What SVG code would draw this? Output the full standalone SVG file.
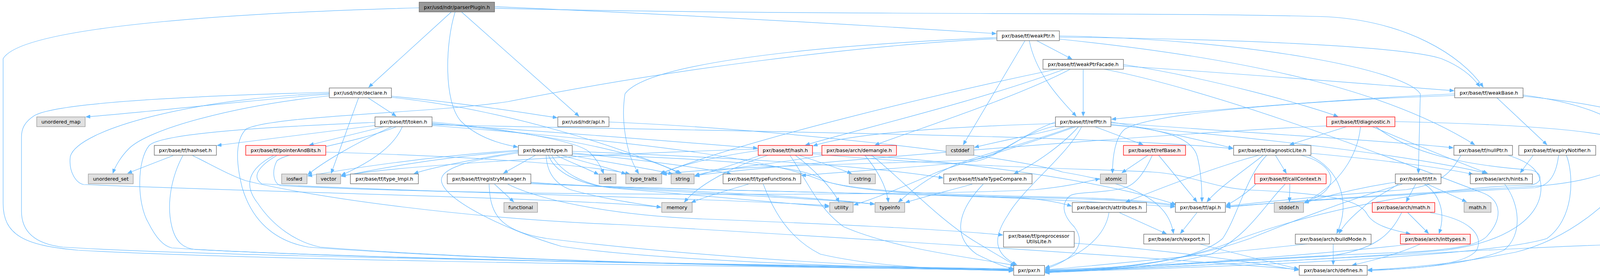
<svg xmlns="http://www.w3.org/2000/svg" width="4321" height="711" viewBox="0 0 4321 711">
<defs>
<marker id="a" markerUnits="userSpaceOnUse" markerWidth="12" markerHeight="9" refX="11" refY="4.5" orient="auto"><path d="M0,0 L11,4.5 L0,9 z" fill="#63b8ff" stroke="#63b8ff" stroke-width="1"/></marker>
</defs>
<style>
.e path{fill:none;stroke:#63b8ff;stroke-width:1.2;marker-end:url(#a)}
.n rect{fill:#ffffff;stroke:#666666;stroke-width:1.3}
.g rect{fill:#e0e0e0;stroke:#999999;stroke-width:1.3}
.r rect{fill:#fff0f0;stroke:#ff0000;stroke-width:1.3}
.m rect{fill:#999999;stroke:#666666;stroke-width:1.3}
text{font-family:"DejaVu Sans","Liberation Sans",sans-serif;font-size:12.7px;text-anchor:middle;fill:#000000}
</style>
<rect x="0" y="0" width="4321" height="711" fill="#ffffff"/>
<g id="edges" class="e">
<path d="M1073,20 C700,30 60,60 8,150 L8,520 C8,600 60,628 200,640 C700,668 2000,682 2593,691"/>
<path d="M1155,31 L944,223"/>
<path d="M1165,31 C1140,110 1135,260 1180,310 C1220,350 1280,368 1325,376"/>
<path d="M1182,31 L1482,297"/>
<path d="M1266,17 C1800,40 2300,70 2550,86"/>
<path d="M1266,21 C2000,40 3000,30 3400,43 C3600,55 3740,140 3797,223"/>
<path d="M843,241 C700,250 400,285 220,299"/>
<path d="M843,245 C600,270 380,330 330,380 C310,400 295,425 289,443"/>
<path d="M843,236 C500,245 150,262 89,295 C62,312 55,330 55,350 L55,540 C55,600 100,625 161,632 C600,660 2000,676 2593,688"/>
<path d="M843,239 C500,250 200,330 180,400 C175,440 195,468 214,472 C700,492 1500,508 1692,530"/>
<path d="M942,250 L1014,297"/>
<path d="M918,250 L848,443"/>
<path d="M1002,246 C1200,265 1350,290 1426,301"/>
<path d="M1002,249 C1300,280 1600,380 1744,443"/>
<path d="M1559,312 C2000,330 2600,400 2720,440 C2900,470 2990,510 3004,597"/>
<path d="M960,313 C800,320 420,335 382,372 C350,410 350,520 380,570 C400,610 420,630 440,634 C900,665 2100,680 2593,690"/>
<path d="M960,321 L556,372"/>
<path d="M983,324 L792,371"/>
<path d="M1003,324 C900,370 820,420 788,447"/>
<path d="M1030,324 C1010,370 960,410 874,448"/>
<path d="M1015,324 C900,370 720,390 708,413 C695,440 700,470 720,475 C1300,505 2400,500 2650,485 C2730,478 2780,465 2815,457"/>
<path d="M1106,312 C1300,330 1480,360 1510,390 C1530,410 1540,430 1545,444"/>
<path d="M1106,315 C1450,345 1660,400 1740,444"/>
<path d="M1106,317 C1400,335 1700,360 1939,379"/>
<path d="M1106,319 C1800,335 2800,345 3156,380"/>
<path d="M1106,321 C1600,360 1950,400 2100,460 C2200,495 2500,500 2750,505 C2900,510 2960,518 3007,524"/>
<path d="M834,389 C1200,400 1500,420 1612,445"/>
<path d="M708,398 C670,420 640,450 670,470 C1000,490 1800,505 2122,526"/>
<path d="M700,398 C640,430 620,470 660,520 C700,580 760,620 820,632 C1300,670 2100,683 2593,692"/>
<path d="M443,398 L327,443"/>
<path d="M468,398 C440,450 425,520 440,580 C450,620 470,635 500,638 C1000,665 2100,680 2593,689"/>
<path d="M493,398 C530,415 580,445 629,462 C800,505 1200,560 1600,575 C2200,610 2900,655 3324,689"/>
<path d="M1371,397 L1289,443"/>
<path d="M1327,388 C1200,410 1100,430 1060,444"/>
<path d="M1327,384 C1100,400 900,430 788,450"/>
<path d="M1327,386 C1100,405 950,435 874,451"/>
<path d="M1423,397 C1460,415 1500,430 1532,446"/>
<path d="M1437,397 C1500,415 1560,430 1602,445"/>
<path d="M1460,397 C1550,415 1660,430 1722,445"/>
<path d="M1398,397 C1400,440 1420,470 1460,485 C1550,510 1640,522 1692,530"/>
<path d="M1404,397 C1420,440 1480,470 1560,480 C1800,495 2100,508 2238,522"/>
<path d="M1412,397 C1440,445 1500,475 1580,482 C1800,500 2000,518 2122,529"/>
<path d="M1465,387 C1800,400 2200,420 2414,455"/>
<path d="M1465,391 C1650,410 1800,430 1872,445"/>
<path d="M1465,394 C1800,405 2060,420 2110,462 C2200,497 2500,503 2750,508 C2900,513 2960,520 3007,527"/>
<path d="M1327,391 C1200,410 1130,430 1130,460 C1130,510 1300,590 1437,630 C1700,670 2300,685 2593,692"/>
<path d="M1266,471 L1315,516"/>
<path d="M1252,471 C1255,540 1270,590 1400,610 C1800,660 2300,685 2593,693"/>
<path d="M1300,471 C1400,520 1600,552 1800,560 C2100,572 2400,585 2567,601"/>
<path d="M1359,466 C1500,478 1800,485 2100,492 C2500,500 2800,515 3007,529"/>
<path d="M1359,468 C1600,482 2000,495 2239,522"/>
<path d="M1359,470 C1700,485 2300,495 2600,505 C2680,510 2720,520 2743,527"/>
<path d="M1916,471 C1850,490 1800,505 1770,518"/>
<path d="M1954,471 C1980,540 2020,610 2100,650 C2250,685 2450,690 2593,692"/>
<path d="M1948,397 C1880,420 1820,440 1779,451"/>
<path d="M1966,397 C1880,425 1790,470 1752,517"/>
<path d="M2036,397 C2080,430 2130,480 2148,517"/>
<path d="M2045,397 C2100,415 2150,432 2180,444"/>
<path d="M2022,397 C2060,450 2090,530 2160,580 C2300,640 2500,660 2598,679"/>
<path d="M1941,385 C1800,405 1720,430 1690,445"/>
<path d="M2080,390 C2500,410 2850,470 3010,523"/>
<path d="M2080,393 C2400,425 2800,432 2950,440 C3050,446 3100,480 3200,486 C3400,495 3480,510 3500,548 C3515,575 3560,588 3610,598"/>
<path d="M1941,381 C1500,395 1000,425 874,450"/>
<path d="M2214,397 C2250,440 2270,480 2274,517"/>
<path d="M2231,397 C2300,450 2400,560 2500,620 C2550,650 2580,668 2600,679"/>
<path d="M2110,397 C1980,420 1830,432 1779,449"/>
<path d="M2624,104 L2466,370"/>
<path d="M2635,104 C2650,180 2700,240 2755,297"/>
<path d="M2654,104 L2744,151"/>
<path d="M2552,96 C2000,120 1650,170 1600,240 C1590,300 1600,390 1635,444"/>
<path d="M2552,99 C2200,115 1700,180 1300,260 C1100,290 700,295 630,330 C600,360 605,420 620,480 C650,580 720,620 790,632 C1300,670 2100,685 2593,691"/>
<path d="M2712,100 C3200,150 3550,230 3775,370"/>
<path d="M2712,92 C3200,100 3600,180 3636,240 L3631,443"/>
<path d="M2712,95 C3200,100 3600,120 3690,150 C3740,170 3770,195 3788,222"/>
<path d="M2773,177 L2773,297"/>
<path d="M2740,177 C2600,250 2350,330 2240,371"/>
<path d="M2725,177 C2500,260 2200,330 2062,371"/>
<path d="M2705,177 C2400,240 1900,360 1692,444"/>
<path d="M2876,165 C3100,200 3350,270 3425,298"/>
<path d="M2876,169 C3200,190 3500,215 3722,232"/>
<path d="M2827,177 C3100,230 3500,380 3800,495 C3845,515 3845,560 3810,600 C3790,630 3700,640 3600,645 C3200,660 2900,685 2676,690"/>
<path d="M2726,324 C2650,345 2560,360 2495,377"/>
<path d="M2761,324 C2720,370 2650,420 2596,444"/>
<path d="M2803,324 L2926,370"/>
<path d="M2702,312 C2620,340 2560,400 2500,412 C2350,428 2150,440 2052,449"/>
<path d="M2702,316 C2500,322 2200,335 2082,373"/>
<path d="M2747,324 C2650,360 2500,400 2450,420 C2380,450 2330,490 2300,517"/>
<path d="M2754,324 C2600,380 2450,420 2400,440 C2330,470 2250,505 2186,524"/>
<path d="M2769,324 C2730,400 2620,480 2580,550 C2540,610 2545,650 2603,677"/>
<path d="M2844,312 C2950,330 3080,360 3156,379"/>
<path d="M2844,318 C2960,330 3050,345 3065,400 C3075,440 3077,480 3077,516"/>
<path d="M2844,314 C3200,340 3550,360 3720,378"/>
<path d="M2844,320 C3200,350 3600,395 3805,443"/>
<path d="M2702,322 C2600,345 2560,405 2480,410 C2200,420 1850,425 1696,446"/>
<path d="M2939,397 L2872,442"/>
<path d="M2966,397 L3064,516"/>
<path d="M2950,397 C2930,440 2910,470 2880,480 C2820,495 2760,490 2740,500 C2715,520 2720,550 2750,580 C2780,620 2760,660 2676,688"/>
<path d="M3223,397 C3100,430 2950,490 2882,517"/>
<path d="M3234,397 C3180,440 3120,480 3090,516"/>
<path d="M3243,397 C3190,450 3170,550 3130,610 C3050,680 2800,690 2676,695"/>
<path d="M3265,397 L3293,443"/>
<path d="M3330,397 C3410,415 3450,480 3339,518"/>
<path d="M3350,397 C3430,430 3460,520 3422,597"/>
<path d="M3356,392 C3550,410 3700,430 3771,446"/>
<path d="M3302,471 L3301,516"/>
<path d="M3215,471 C3190,495 3160,515 3139,525"/>
<path d="M3290,471 C3240,520 3200,600 3100,650 C2950,690 2750,695 2676,697"/>
<path d="M3447,324 L3302,370"/>
<path d="M3483,324 C3475,400 3430,470 3340,518"/>
<path d="M3396,322 C3000,340 2000,420 1780,449"/>
<path d="M3513,324 C3600,360 3720,410 3808,443"/>
<path d="M3522,324 C3620,400 3780,425 3920,435 C3950,442 3950,468 3920,473 C3600,482 3300,560 3150,620 C3000,680 2800,690 2676,692"/>
<path d="M3571,311 C3900,318 4100,335 4160,360 C4215,380 4225,395 4200,425 C4120,520 4020,610 3880,645 C3700,680 3560,688 3502,690"/>
<path d="M3580,471 C3550,490 3510,510 3490,530 C3460,555 3440,575 3428,597"/>
<path d="M3624,471 L3600,516"/>
<path d="M3647,471 C3690,500 3700,550 3684,597"/>
<path d="M3654,471 L3754,516"/>
<path d="M3572,466 C3480,480 3400,500 3339,519"/>
<path d="M3590,471 C3450,510 3300,570 3200,610 C3000,680 2800,693 2676,694"/>
<path d="M3604,544 L3657,597"/>
<path d="M3661,544 C3760,560 3800,600 3780,640 C3750,680 3600,690 3502,690"/>
<path d="M3588,544 C3560,600 3520,640 3400,655 C3100,670 2800,690 2676,696"/>
<path d="M3636,624 C3580,650 3500,670 3462,678"/>
<path d="M3615,624 C3400,650 2900,685 2676,698"/>
<path d="M3413,624 L3413,677"/>
<path d="M3347,624 C3100,650 2800,680 2676,690"/>
<path d="M2866,544 L2986,598"/>
<path d="M2839,544 C2830,600 2780,650 2676,685"/>
<path d="M3064,544 L3022,597"/>
<path d="M3071,624 C3150,645 3250,670 3324,688"/>
<path d="M2750,622 C3000,640 3200,670 3324,691"/>
<path d="M3740,397 C3720,430 3700,470 3600,485 C3400,500 3250,515 3139,527"/>
<path d="M3860,397 C3920,415 3945,440 3945,480 C3945,560 3850,620 3700,640 C3400,665 2900,688 2676,693"/>
<path d="M3925,397 L3892,442"/>
<path d="M3990,397 C3985,440 3970,475 3930,480 C3700,492 3300,515 3139,529"/>
<path d="M4010,397 C4030,450 4030,560 3960,610 C3800,660 3000,688 2676,695"/>
<path d="M3832,250 L3960,370"/>
<path d="M3724,240 C3400,255 3000,290 2846,305"/>
<path d="M3724,244 C3300,260 2950,290 2880,330 C2855,350 2848,400 2848,443"/>
<path d="M3899,243 C4100,270 4190,330 4180,380 C4170,440 4050,470 3900,478 C3600,495 3300,515 3139,530"/>
<path d="M3899,246 C4150,270 4312,320 4312,380 L4312,540 C4312,600 4280,622 4200,624 C3900,628 3000,690 2676,693"/>
<path d="M3852,471 C3890,520 3900,600 3850,640 C3750,680 3600,688 3502,692"/>
<path d="M2489,471 C2420,490 2360,505 2318,518"/>
<path d="M2517,471 C2460,530 2430,600 2500,650 C2550,675 2580,685 2596,688"/>
</g>
<g id="n_parserPlugin" class="m"><rect x="1073" y="5.5" width="193" height="25"/><text x="1169.5" y="22.5">pxr/usd/ndr/parserPlugin.h</text></g>
<g id="n_weakPtr" class="n"><rect x="2552" y="79" width="160" height="25"/><text x="2632" y="96">pxr/base/tf/weakPtr.h</text></g>
<g id="n_weakPtrFacade" class="n"><rect x="2670" y="152" width="206" height="25"/><text x="2773" y="169">pxr/base/tf/weakPtrFacade.h</text></g>
<g id="n_declare" class="n"><rect x="843" y="225" width="159" height="25"/><text x="922.5" y="242">pxr/usd/ndr/declare.h</text></g>
<g id="n_weakBase" class="n"><rect x="3724" y="225" width="175" height="25"/><text x="3811.5" y="242">pxr/base/tf/weakBase.h</text></g>
<g id="n_unordered_map" class="g"><rect x="94" y="299" width="124" height="25"/><text x="156" y="316">unordered_map</text></g>
<g id="n_token" class="n"><rect x="960" y="299" width="146" height="25"/><text x="1033" y="316">pxr/base/tf/token.h</text></g>
<g id="n_ndrapi" class="n"><rect x="1428" y="299" width="131" height="25"/><text x="1493.5" y="316">pxr/usd/ndr/api.h</text></g>
<g id="n_refPtr" class="n"><rect x="2702" y="299" width="142" height="25"/><text x="2773" y="316">pxr/base/tf/refPtr.h</text></g>
<g id="n_diagnostic" class="r"><rect x="3396" y="299" width="175" height="25"/><text x="3483.5" y="316">pxr/base/tf/diagnostic.h</text></g>
<g id="n_hashset" class="n"><rect x="395" y="372" width="159" height="25"/><text x="474.5" y="389">pxr/base/tf/hashset.h</text></g>
<g id="n_pointerAndBits" class="r"><rect x="629" y="372" width="205" height="25"/><text x="731.5" y="389">pxr/base/tf/pointerAndBits.h</text></g>
<g id="n_type" class="n"><rect x="1327" y="372" width="138" height="25"/><text x="1396" y="389">pxr/base/tf/type.h</text></g>
<g id="n_hash" class="r"><rect x="1941" y="372" width="139" height="25"/><text x="2010.5" y="389">pxr/base/tf/hash.h</text></g>
<g id="n_demangle" class="r"><rect x="2104" y="372" width="191" height="25"/><text x="2199.5" y="389">pxr/base/arch/demangle.h</text></g>
<g id="n_cstddef" class="g"><rect x="2422" y="372" width="71" height="25"/><text x="2457.5" y="389">cstddef</text></g>
<g id="n_refBase" class="r"><rect x="2876" y="372" width="159" height="25"/><text x="2955.5" y="389">pxr/base/tf/refBase.h</text></g>
<g id="n_diagnosticLite" class="n"><rect x="3158" y="372" width="198" height="25"/><text x="3257" y="389">pxr/base/tf/diagnosticLite.h</text></g>
<g id="n_nullPtr" class="n"><rect x="3722" y="372" width="150" height="25"/><text x="3797" y="389">pxr/base/tf/nullPtr.h</text></g>
<g id="n_expiryNotifier" class="n"><rect x="3888" y="372" width="197" height="25"/><text x="3986.5" y="389">pxr/base/tf/expiryNotifier.h</text></g>
<g id="n_unordered_set" class="g"><rect x="226" y="445" width="115" height="25"/><text x="283.5" y="462">unordered_set</text></g>
<g id="n_iosfwd" class="g"><rect x="721" y="445" width="65" height="25"/><text x="753.5" y="462">iosfwd</text></g>
<g id="n_vector" class="g"><rect x="810" y="445" width="62" height="25"/><text x="841" y="462">vector</text></g>
<g id="n_type_Impl" class="n"><rect x="897" y="445" width="174" height="25"/><text x="984" y="462">pxr/base/tf/type_Impl.h</text></g>
<g id="n_registryManager" class="n"><rect x="1145" y="445" width="214" height="25"/><text x="1252" y="462">pxr/base/tf/registryManager.h</text></g>
<g id="n_set" class="g"><rect x="1534" y="445" width="43" height="25"/><text x="1555.5" y="462">set</text></g>
<g id="n_type_traits" class="g"><rect x="1602" y="445" width="92" height="25"/><text x="1648" y="462">type_traits</text></g>
<g id="n_string" class="g"><rect x="1718" y="445" width="59" height="25"/><text x="1747.5" y="462">string</text></g>
<g id="n_typeFunctions" class="n"><rect x="1851" y="445" width="199" height="25"/><text x="1950.5" y="462">pxr/base/tf/typeFunctions.h</text></g>
<g id="n_cstring" class="g"><rect x="2174" y="445" width="67" height="25"/><text x="2207.5" y="462">cstring</text></g>
<g id="n_safeTypeCompare" class="n"><rect x="2416" y="445" width="226" height="25"/><text x="2529" y="462">pxr/base/tf/safeTypeCompare.h</text></g>
<g id="n_atomic" class="g"><rect x="2817" y="445" width="67" height="25"/><text x="2850.5" y="462">atomic</text></g>
<g id="n_callContext" class="r"><rect x="3212" y="445" width="183" height="25"/><text x="3303.5" y="462">pxr/base/tf/callContext.h</text></g>
<g id="n_tf" class="n"><rect x="3572" y="445" width="117" height="25"/><text x="3630.5" y="462">pxr/base/tf/tf.h</text></g>
<g id="n_hints" class="n"><rect x="3764" y="445" width="159" height="25"/><text x="3843.5" y="462">pxr/base/arch/hints.h</text></g>
<g id="n_functional" class="g"><rect x="1290" y="518" width="86" height="25"/><text x="1333" y="535">functional</text></g>
<g id="n_memory" class="g"><rect x="1694" y="518" width="78" height="25"/><text x="1733" y="535">memory</text></g>
<g id="n_utility" class="g"><rect x="2124" y="518" width="60" height="25"/><text x="2154" y="535">utility</text></g>
<g id="n_typeinfo" class="g"><rect x="2240" y="518" width="76" height="25"/><text x="2278" y="535">typeinfo</text></g>
<g id="n_attributes" class="n"><rect x="2745" y="518" width="190" height="25"/><text x="2840" y="535">pxr/base/arch/attributes.h</text></g>
<g id="n_tfapi" class="n"><rect x="3009" y="518" width="128" height="25"/><text x="3073" y="535">pxr/base/tf/api.h</text></g>
<g id="n_stddef" class="g"><rect x="3262" y="518" width="75" height="25"/><text x="3299.5" y="535">stddef.h</text></g>
<g id="n_archmath" class="r"><rect x="3513" y="518" width="160" height="25"/><text x="3593" y="535">pxr/base/arch/math.h</text></g>
<g id="n_math" class="g"><rect x="3748" y="518" width="69" height="25"/><text x="3782.5" y="535">math.h</text></g>
<g id="n_preprocessorUtilsLite" class="n"><rect x="2569" y="592" width="181" height="40"/><text x="2659.5" y="607.5">pxr/base/tf/preprocessor</text><text x="2659.5" y="622">UtilsLite.h</text></g>
<g id="n_export" class="n"><rect x="2928" y="599" width="168" height="25"/><text x="3012" y="616">pxr/base/arch/export.h</text></g>
<g id="n_buildMode" class="n"><rect x="3316" y="599" width="194" height="25"/><text x="3413" y="616">pxr/base/arch/buildMode.h</text></g>
<g id="n_inttypes" class="r"><rect x="3585" y="599" width="179" height="25"/><text x="3674.5" y="616">pxr/base/arch/inttypes.h</text></g>
<g id="n_pxr" class="n"><rect x="2595" y="679" width="79" height="25"/><text x="2634.5" y="696">pxr/pxr.h</text></g>
<g id="n_defines" class="n"><rect x="3326" y="679" width="174" height="25"/><text x="3413" y="696">pxr/base/arch/defines.h</text></g>
</svg>
